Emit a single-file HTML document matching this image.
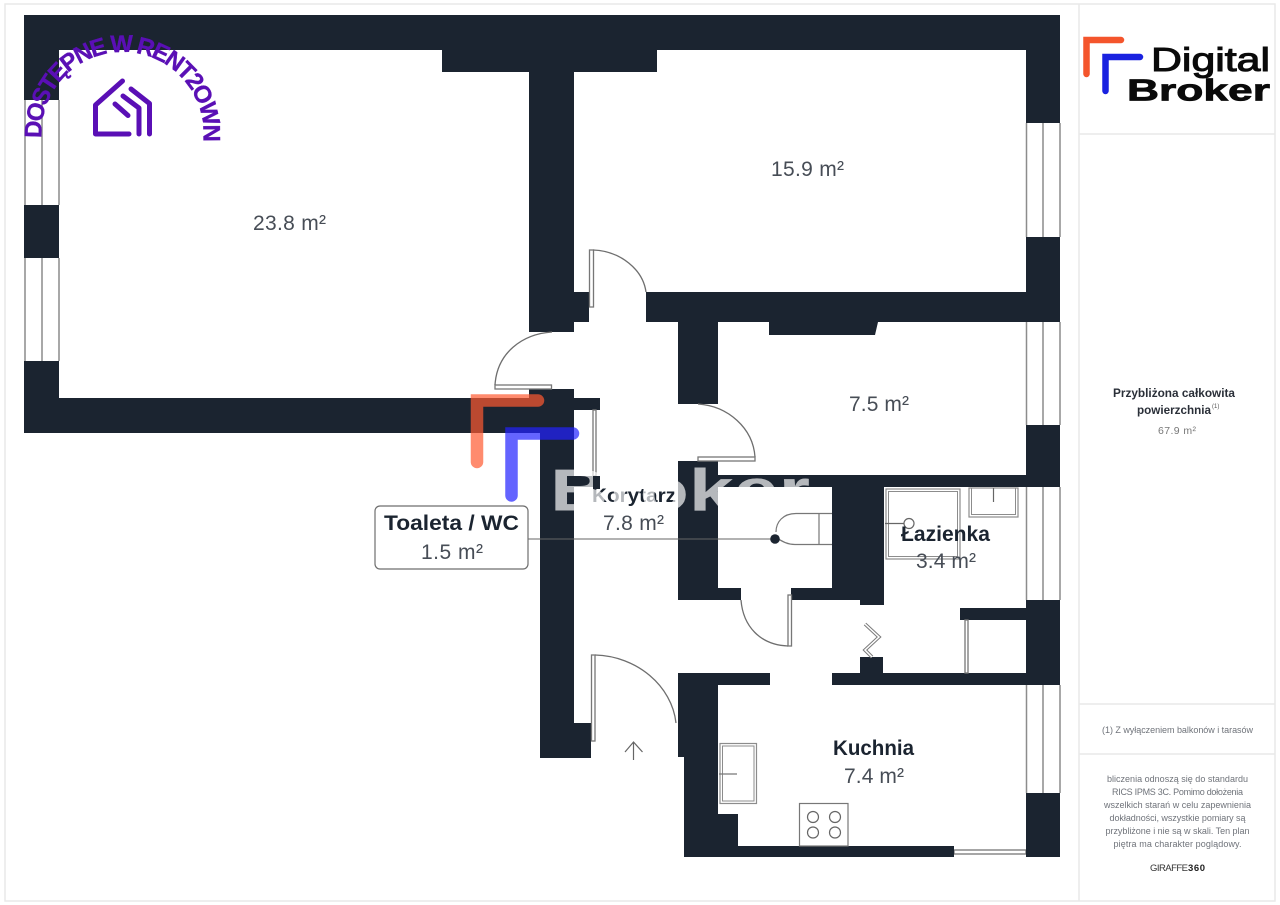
<!DOCTYPE html>
<html><head><meta charset="utf-8"><style>
html,body{margin:0;padding:0;background:#fff;width:1280px;height:905px;overflow:hidden}
svg{display:block}
text{font-family:"Liberation Sans",sans-serif}
.a{font-size:21px;fill:#474d56}
.b{font-size:21px;font-weight:bold;fill:#1b2430}
.w{fill:#1b2430}
.g{stroke:#8c8c8c;stroke-width:1.5;fill:none}
.d{stroke:#6e6e6e;stroke-width:1.3;fill:none}
.l{stroke:#777;stroke-width:1.3;fill:#fff}
.s{font-size:9px;fill:#6f737a;text-anchor:middle}
</style></head><body>
<svg width="1280" height="905" viewBox="0 0 1280 905" xmlns="http://www.w3.org/2000/svg">
<rect x="5" y="4" width="1270" height="897" fill="#fff" stroke="#e9e9e9" stroke-width="1.5"/>
<path d="M1079 4V901M1079 134H1275M1079 704H1275M1079 754H1275" stroke="#e9e9e9" stroke-width="1.5" fill="none"/>

<!-- windows -->
<path class="g" d="M25 100V205M42 100V205M59 100V205M25 258V361M42 258V361M59 258V361"/>
<path class="g" d="M1026.500 123V237M1043 123V237M1060 123V237M1026.500 322V425M1043 322V425M1060 322V425M1026.500 487V600M1043 487V600M1060 487V600M1026.500 685V793M1043 685V793M1060 685V793"/>
<rect class="l" x="954" y="850" width="72" height="4"/>

<!-- walls -->
<g class="w">
<rect x="24" y="15" width="1036" height="35"/>
<rect x="442" y="50" width="215" height="22"/>
<rect x="24" y="15" width="35" height="85"/>
<rect x="24" y="205" width="35" height="53"/>
<rect x="24" y="361" width="35" height="72"/>
<rect x="24" y="398" width="516" height="35"/>
<rect x="529" y="50" width="45" height="282"/>
<rect x="574" y="292" width="15" height="30"/>
<rect x="1026" y="15" width="34" height="108"/>
<rect x="1026" y="237" width="34" height="85"/>
<rect x="646" y="292" width="414" height="30"/>
<rect x="678" y="322" width="40" height="82"/>
<path d="M769 322H878L875 335H769Z"/>
<rect x="529" y="389" width="45" height="44"/>
<rect x="574" y="398" width="26" height="12"/>
<rect x="540" y="433" width="34" height="325"/>
<rect x="540" y="723" width="51" height="35"/>
<rect x="574" y="476" width="26" height="11"/>
<rect x="678" y="461" width="40" height="139"/>
<rect x="678" y="588" width="63" height="12"/>
<rect x="718" y="475" width="342" height="12"/>
<rect x="1026" y="425" width="34" height="62"/>
<rect x="832" y="487" width="52" height="113"/>
<rect x="860" y="590" width="24" height="15"/>
<rect x="791" y="588" width="69" height="12"/>
<rect x="960" y="608" width="66" height="12"/>
<rect x="1026" y="600" width="34" height="85"/>
<rect x="832" y="673" width="228" height="12"/>
<rect x="860" y="657" width="23" height="16"/>
<rect x="678" y="673" width="92" height="12"/>
<rect x="678" y="673" width="40" height="84"/>
<rect x="684" y="757" width="34" height="100"/>
<rect x="718" y="814" width="20" height="32"/>
<rect x="684" y="846" width="270" height="11"/>
<rect x="1026" y="793" width="34" height="64"/>
</g>

<!-- doors -->
<rect class="l" x="589.500" y="250" width="4" height="57"/>
<path class="d" d="M593 250C621 251 643 270 646 292"/>
<rect class="l" x="495" y="385" width="56.500" height="4"/>
<path class="d" d="M552 332C522 334 497 353 495 385"/>
<path class="d" d="M698 404C728 406 753 428 755 457"/>
<rect class="l" x="698" y="457" width="57" height="4"/>
<rect class="l" x="593" y="410" width="3" height="66"/>
<rect class="l" x="591.500" y="655" width="3.500" height="86"/>
<path class="d" d="M595 655C637 656 672 686 676 723"/>
<rect class="l" x="788" y="595" width="3.500" height="51"/>
<path class="d" d="M741 600C743 626 760 645 788 646"/>
<rect class="l" x="965" y="620" width="3" height="53"/>
<path d="M865 624L879 637L865 650L872 657" fill="none" stroke="#7a7a7a" stroke-width="3.500"/>
<path d="M865 624L879 637L865 650L872 657" fill="none" stroke="#fff" stroke-width="1.500"/>

<!-- fixtures -->
<path d="M528 539H775" stroke="#666" stroke-width="1"/>
<path d="M832 513.500H796C783 513.500 776 522 776 532M832 544.500H795C788 544.500 782 542 776 537M819 513.500V544.500" fill="none" stroke="#777" stroke-width="1.200"/>
<circle cx="775" cy="539" r="4.800" fill="#1b2430"/>
<rect x="886" y="489" width="74" height="70" fill="none" stroke="#8c8c8c" stroke-width="1.200"/>
<rect x="888.500" y="491.500" width="69" height="65" fill="none" stroke="#8c8c8c" stroke-width="1"/>
<path d="M885 523.500H906" stroke="#666" stroke-width="1.200"/>
<circle cx="909" cy="523.500" r="5" fill="#fff" stroke="#666" stroke-width="1.200"/>
<rect x="969" y="488" width="49" height="29" fill="none" stroke="#8c8c8c" stroke-width="1.200"/>
<rect x="971.500" y="488" width="44" height="26.500" fill="none" stroke="#8c8c8c" stroke-width="1"/>
<path d="M993.500 488V502" stroke="#666" stroke-width="1.200"/>
<rect x="720" y="743.500" width="36.500" height="60" fill="none" stroke="#8c8c8c" stroke-width="1.200"/>
<rect x="722.500" y="746" width="31.500" height="55" fill="none" stroke="#8c8c8c" stroke-width="1"/>
<path d="M719 774H737" stroke="#777" stroke-width="1.200"/>
<rect x="799.500" y="803.500" width="48.500" height="42.500" fill="#fff" stroke="#777" stroke-width="1.200"/>
<g fill="none" stroke="#666" stroke-width="1.200"><circle cx="813" cy="817" r="5.500"/><circle cx="835" cy="817" r="5.500"/><circle cx="813" cy="832.500" r="5.500"/><circle cx="835" cy="832.500" r="5.500"/></g>
<path d="M633.500 760V742M625 752L633.500 742L642.500 752" fill="none" stroke="#666" stroke-width="1.200"/>

<!-- labels -->
<text class="a" x="253" y="230" textLength="73">23.8 m²</text>
<text class="a" x="771" y="176" textLength="73">15.9 m²</text>
<text class="a" x="849" y="411" textLength="60">7.5 m²</text>
<text class="b" x="592" y="502" textLength="84" lengthAdjust="spacingAndGlyphs" style="font-size:19px">Korytarz</text>
<text class="a" x="603" y="530" textLength="61">7.8 m²</text>
<rect x="375" y="506" width="153" height="63" rx="5" fill="#fff" stroke="#6e6e6e" stroke-width="1.200"/>
<text class="b" x="384" y="530" textLength="135" lengthAdjust="spacingAndGlyphs">Toaleta / WC</text>
<text class="a" x="421" y="559" textLength="62">1.5 m²</text>
<text class="b" x="901" y="541" textLength="89" lengthAdjust="spacingAndGlyphs">Łazienka</text>
<text class="a" x="916" y="568" textLength="60">3.4 m²</text>
<text class="b" x="833" y="755" textLength="81" lengthAdjust="spacingAndGlyphs">Kuchnia</text>
<text class="a" x="844" y="783" textLength="60">7.4 m²</text>

<!-- watermark -->
<text x="550" y="510.500" textLength="260" lengthAdjust="spacingAndGlyphs" style="font-size:59px;font-weight:bold" fill="#fff" fill-opacity=".68">Broker</text>
<rect x="593" y="476" width="7" height="13" fill="#1b2430"/>
<path d="M477 462V400.500H538" fill="none" stroke="#ff5a30" stroke-opacity=".7" stroke-width="12.500" stroke-linecap="round"/>
<path d="M511.500 495.500V433.500H573" fill="none" stroke="#2222ff" stroke-opacity=".7" stroke-width="12.500" stroke-linecap="round"/>

<!-- purple stamp -->
<defs><path id="arc" d="M41.650 138A81 81 0 1 1 203.350 138"/></defs>
<text style="font-size:24px;font-weight:bold;letter-spacing:-2.100px" fill="#5a0fb5" stroke="#5a0fb5" stroke-width=".4"><textPath href="#arc">DOSTĘPNE W RENT2OWN</textPath></text>
<g fill="none" stroke="#5a0fb5" stroke-width="5" stroke-linecap="round" stroke-linejoin="round">
<path d="M129 134H95.500V105L122.500 81"/>
<path d="M131 89L149.500 103.500V134"/>
<path d="M123 96L139 108V134"/>
<path d="M115 104L128 115.500"/>
</g>

<!-- logo -->
<path d="M1086.500 74V40H1121" fill="none" stroke="#f4552c" stroke-width="6.500" stroke-linecap="round"/>
<path d="M1105.500 91V57H1140" fill="none" stroke="#1a22e0" stroke-width="6.500" stroke-linecap="round"/>
<text x="1151" y="71" textLength="119" lengthAdjust="spacingAndGlyphs" style="font-size:33px" fill="#0a0a0a" stroke="#0a0a0a" stroke-width="1">Digital</text>
<text x="1127" y="100.500" textLength="143" lengthAdjust="spacingAndGlyphs" style="font-size:31px;font-weight:bold" fill="#0a0a0a" stroke="#0a0a0a" stroke-width=".8">Broker</text>

<!-- sidebar -->
<text x="1113" y="397" textLength="122" lengthAdjust="spacingAndGlyphs" style="font-size:11.500px;font-weight:bold" fill="#2a2f38">Przybliżona całkowita</text>
<text x="1137" y="414" textLength="74" lengthAdjust="spacingAndGlyphs" style="font-size:11.500px;font-weight:bold" fill="#2a2f38">powierzchnia</text>
<text x="1212" y="408" style="font-size:6px" fill="#555">(1)</text>
<text x="1158" y="434" textLength="38" style="font-size:10.500px" fill="#777">67.9 m²</text>
<text class="s" x="1177.500" y="733" textLength="151">(1) Z wyłączeniem balkonów i tarasów</text>
<text class="s" x="1177.500" y="782" textLength="141">bliczenia odnoszą się do standardu</text>
<text class="s" x="1177.500" y="795" textLength="131">RICS IPMS 3C. Pomimo dołożenia</text>
<text class="s" x="1177.500" y="808" textLength="147">wszelkich starań w celu zapewnienia</text>
<text class="s" x="1177.500" y="821" textLength="136">dokładności, wszystkie pomiary są</text>
<text class="s" x="1177.500" y="834" textLength="144">przybliżone i nie są w skali. Ten plan</text>
<text class="s" x="1177.500" y="847" textLength="128">piętra ma charakter poglądowy.</text>
<text x="1150" y="871" style="font-size:9.500px" fill="#333" textLength="38">GIRAFFE</text>
<text x="1188" y="871" style="font-size:9.500px;font-weight:bold" fill="#222" textLength="17">360</text>
</svg>
</body></html>
